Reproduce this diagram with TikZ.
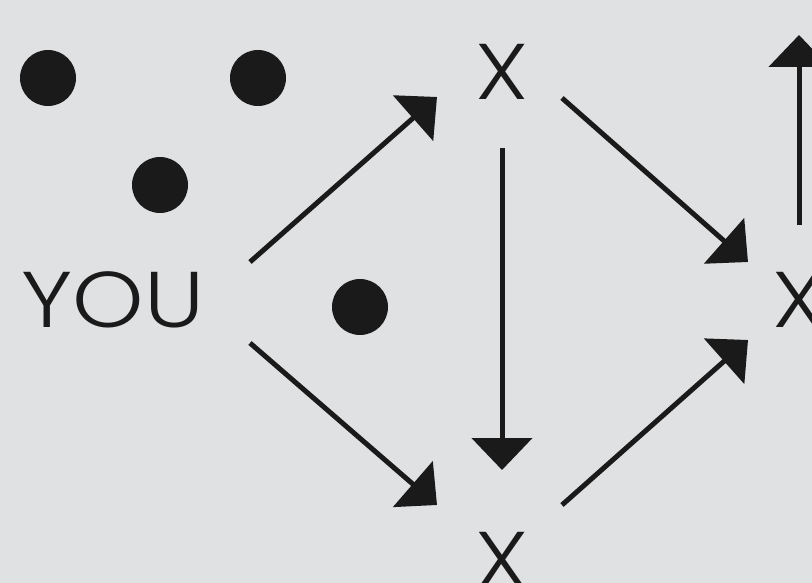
\documentclass[tikz,border=0pt]{standalone}
\usepackage{fontspec}
\setmainfont{Poppins}[UprightFont=* Light]
\usetikzlibrary{arrows.meta}
\definecolor{bg}{HTML}{E0E1E3}
\definecolor{ink}{HTML}{1A1A1A}
\newcommand{\wide}[1]{\scalebox{1.15}[1]{#1}}
\tikzset{
  lbl/.style={inner sep=0pt, text=ink, font=\fontsize{79}{79}\selectfont},
  dot/.style={circle, fill=ink, inner sep=0pt, minimum size=56pt},
  arr/.style={draw=ink, line width=5pt, -{Triangle[length=32pt,width=60pt]}},
}
\begin{document}
\begin{tikzpicture}[x=1pt,y=-1pt]
\fill[bg] (0,0) rectangle (812,583);
\useasboundingbox (0,0) rectangle (812,583);
\node[dot] (d1) at (48,78) {};
\node[dot] (d2) at (258,78) {};
\node[dot] (d3) at (160,185) {};
\node[dot] (d4) at (360,307) {};
\node[lbl] (you) at (113,300) {\wide{YOU}};
\node[lbl] (xt) at (502,72) {\wide{X}};
\node[lbl] (xb) at (502,560) {\wide{X}};
\node[lbl] (xr) at (799,300) {\wide{X}};
\coordinate (a1) at (250,262);
\coordinate (b1) at (437,97);
\coordinate (a2) at (250,343);
\coordinate (b2) at (437,505);
\coordinate (a3) at (502,148);
\coordinate (b3) at (502,470);
\coordinate (a4) at (562,98);
\coordinate (b4) at (748,262);
\coordinate (a5) at (562,505);
\coordinate (b5) at (748,340);
\coordinate (a6) at (799,225);
\coordinate (b6) at (799,35);
\draw[arr] (a1) -- (b1);
\draw[arr] (a2) -- (b2);
\draw[arr] (a3) -- (b3);
\draw[arr] (a4) -- (b4);
\draw[arr] (a5) -- (b5);
\draw[arr] (a6) -- (b6);
\end{tikzpicture}
\end{document}
